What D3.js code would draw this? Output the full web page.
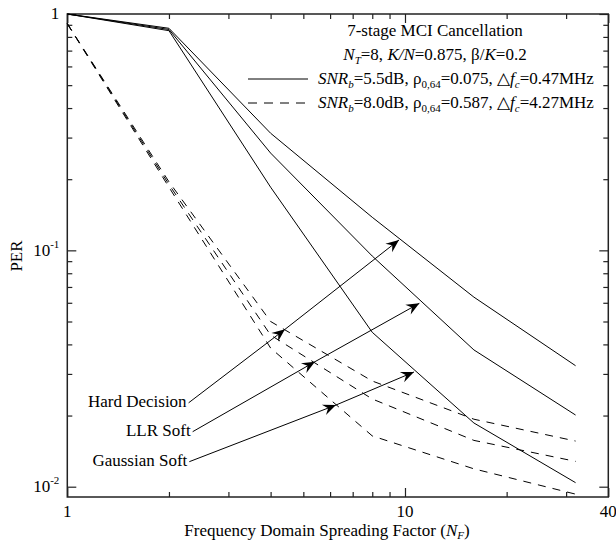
<!DOCTYPE html>
<html>
<head>
<meta charset="utf-8">
<script src="https://cdn.jsdelivr.net/npm/d3@7"></script>
<style>
  body { margin: 0; background: #fff; }
  text { font-family: "Liberation Serif", "Times New Roman", serif; fill: #000; }
</style>
</head>
<body>
<svg id="chart_svg"></svg>
<script>
// Frequency domain spreading factor
const nf = [1, 2, 4, 8, 16, 32];

// SNRb = 5.5 dB (solid)
const hardSolid = [1, 0.87, 0.313, 0.138, 0.0634, 0.0325];
const llrSolid = [1, 0.86, 0.258, 0.0946, 0.0379, 0.0201];
const gaussSolid = [1, 0.85, 0.185, 0.045, 0.0186, 0.0104];

// SNRb = 8.0 dB (dashed)
const hardDash = [0.91, 0.195, 0.050, 0.028, 0.0193, 0.0156];
const llrDash = [0.91, 0.19, 0.0438, 0.0235, 0.0157, 0.0128];
const gaussDash = [0.91, 0.185, 0.0386, 0.0164, 0.0119, 0.0093];

const xMajor = [1, 10, 40];
const xMinor = [2, 3, 4, 5, 6, 7, 8, 9, 20, 30];
const yMajor = [0.01, 0.1, 1];
const yMinor = [0.02, 0.03, 0.04, 0.05, 0.06, 0.07, 0.08, 0.09, 0.2, 0.3, 0.4, 0.5, 0.6, 0.7, 0.8, 0.9];

// annotation arrows: label, start, arrow on dashed curve, arrow on solid curve (data units)
const notes = [
  { label: "Hard Decision", pts: [[2.287, 0.02264], [4.413, 0.04634], [9.598, 0.1106]] },
  { label: "LLR Soft", pts: [[2.351, 0.01709], [5.413, 0.0338], [11.03, 0.0597]] },
  { label: "Gaussian Soft", pts: [[2.298, 0.01276], [6.247, 0.02216], [10.63, 0.03057]] }
];

const width = 616, height = 542;
const mLeft = 67.3, mRight = 608.3, mTop = 14, mBottom = 497;

const svg = d3.select("#chart_svg")
  .attr("width", width)
  .attr("height", height);

const x = d3.scaleLog().domain([1, 40]).range([mLeft, mRight]);
const y = d3.scaleLog().domain([0.009045, 1]).range([mBottom, mTop]);

// marker for the annotation arrows
svg.append("defs").append("marker")
  .attr("id", "arrow")
  .attr("viewBox", "-14 -7 16 14")
  .attr("refX", 0).attr("refY", 0)
  .attr("markerWidth", 16).attr("markerHeight", 14)
  .attr("markerUnits", "userSpaceOnUse")
  .attr("orient", "auto")
  .append("path")
  .attr("d", "M0,0 L-13,-5.5 L-8.5,0 L-13,5.5 Z")
  .attr("fill", "#000");

// ticks on all four sides, pointing inward
function ticks(axis, values, size, transform) {
  const g = svg.append("g")
    .attr("transform", transform)
    .call(axis.tickValues(values).tickSize(size).tickSizeOuter(0).tickFormat(""));
  g.select(".domain").remove();
  g.selectAll(".tick line").attr("stroke", "#222").attr("stroke-width", 1.2);
  return g;
}
ticks(d3.axisBottom(x), xMinor, -5, `translate(0,${mBottom})`);
ticks(d3.axisBottom(x), xMajor, -9, `translate(0,${mBottom})`);
ticks(d3.axisTop(x), xMinor, -5, `translate(0,${mTop})`);
ticks(d3.axisTop(x), xMajor, -9, `translate(0,${mTop})`);
ticks(d3.axisLeft(y), yMinor, -5, `translate(${mLeft},0)`);
ticks(d3.axisLeft(y), yMajor, -9, `translate(${mLeft},0)`);
ticks(d3.axisRight(y), yMinor, -5, `translate(${mRight},0)`);
ticks(d3.axisRight(y), yMajor, -9, `translate(${mRight},0)`);

// frame
svg.append("rect")
  .attr("x", mLeft).attr("y", mTop)
  .attr("width", mRight - mLeft).attr("height", mBottom - mTop)
  .attr("fill", "none")
  .attr("stroke", "#222")
  .attr("stroke-width", 1.5);

// x tick labels
svg.append("g").selectAll("text")
  .data(xMajor)
  .enter().append("text")
  .attr("x", d => x(d))
  .attr("y", mBottom + 20)
  .attr("text-anchor", "middle")
  .attr("font-size", 17)
  .text(d => d);

// y tick labels with superscripts
const yLab = svg.append("g").selectAll("text")
  .data(yMajor)
  .enter().append("text")
  .attr("x", mLeft - 8)
  .attr("y", d => y(d))
  .attr("dy", "0.32em")
  .attr("text-anchor", "end")
  .attr("font-size", 17);
yLab.each(function(d) {
  const t = d3.select(this);
  const e = Math.round(Math.log10(d));
  if (e === 0) { t.text("1"); return; }
  t.append("tspan").text("10");
  t.append("tspan").attr("font-size", 11).attr("dy", "-0.75em").text(e);
});

// axis titles
const xt = svg.append("text")
  .attr("x", 327).attr("y", 536)
  .attr("text-anchor", "middle")
  .attr("font-size", 17);
xt.append("tspan").text("Frequency Domain Spreading Factor (");
xt.append("tspan").attr("font-style", "italic").text("N");
xt.append("tspan").attr("font-style", "italic").attr("font-size", 11).attr("dy", 3).text("F");
xt.append("tspan").attr("dy", -3).text(")");

svg.append("text")
  .attr("transform", "translate(22,256) rotate(-90)")
  .attr("text-anchor", "middle")
  .attr("font-size", 17)
  .text("PER");

// curves
const line = d3.line()
  .x((d, i) => x(nf[i]))
  .y(d => y(d));

const curves = [
  { v: hardSolid, dash: null }, { v: llrSolid, dash: null }, { v: gaussSolid, dash: null },
  { v: hardDash, dash: "8,7" }, { v: llrDash, dash: "8,7" }, { v: gaussDash, dash: "8,7" }
];

svg.append("g")
  .selectAll("path")
  .data(curves)
  .enter().append("path")
  .attr("d", d => line(d.v))
  .attr("fill", "none")
  .attr("stroke", "#000")
  .attr("stroke-width", 1)
  .attr("stroke-dasharray", d => d.dash);

// annotations
const arrowLine = d3.line().x(d => x(d[0])).y(d => y(d[1]));
const note = svg.append("g").selectAll("g")
  .data(notes)
  .enter().append("g");

note.append("path")
  .attr("d", d => arrowLine(d.pts))
  .attr("fill", "none")
  .attr("stroke", "#000")
  .attr("stroke-width", 1)
  .attr("marker-mid", "url(#arrow)")
  .attr("marker-end", "url(#arrow)");

note.append("text")
  .attr("x", d => x(d.pts[0][0]) - 2)
  .attr("y", d => y(d.pts[0][1]) + 4)
  .attr("text-anchor", "end")
  .attr("font-size", 17)
  .text(d => d.label);

// legend
const legend = svg.append("g");
legend.append("text")
  .attr("x", 435).attr("y", 36)
  .attr("text-anchor", "middle")
  .attr("font-size", 17)
  .text("7-stage MCI Cancellation");

const l2 = legend.append("text")
  .attr("x", 435).attr("y", 60)
  .attr("text-anchor", "middle")
  .attr("font-size", 17);
l2.append("tspan").attr("font-style", "italic").text("N");
l2.append("tspan").attr("font-style", "italic").attr("font-size", 11).attr("dy", 4).text("T");
l2.append("tspan").attr("dy", -4).text("=8, ");
l2.append("tspan").attr("font-style", "italic").text("K/N");
l2.append("tspan").text("=0.875, β/");
l2.append("tspan").attr("font-style", "italic").text("K");
l2.append("tspan").text("=0.2");

const legendRows = [
  { snr: "5.5", rho: "0.075", df: "0.47", dash: null, yb: 84 },
  { snr: "8.0", rho: "0.587", df: "4.27", dash: "9,7", yb: 108 }
];

legendRows.forEach(r => {
  legend.append("line")
    .attr("x1", 248).attr("x2", 308)
    .attr("y1", r.yb - 5).attr("y2", r.yb - 5)
    .attr("stroke", "#000")
    .attr("stroke-width", 1)
    .attr("stroke-dasharray", r.dash);
  const t = legend.append("text")
    .attr("x", 318).attr("y", r.yb)
    .attr("font-size", 17);
  t.append("tspan").attr("font-style", "italic").text("SNR");
  t.append("tspan").attr("font-style", "italic").attr("font-size", 11).attr("dy", 4).text("b");
  t.append("tspan").attr("dy", -4).text(`=${r.snr}dB, ρ`);
  t.append("tspan").attr("font-size", 11).attr("dy", 4).text("0,64");
  t.append("tspan").attr("dy", -4).text(`=${r.rho}, △`);
  t.append("tspan").attr("font-style", "italic").text("f");
  t.append("tspan").attr("font-style", "italic").attr("font-size", 11).attr("dy", 4).text("c");
  t.append("tspan").attr("dy", -4).text(`=${r.df}MHz`);
});
</script>
</body>
</html>
